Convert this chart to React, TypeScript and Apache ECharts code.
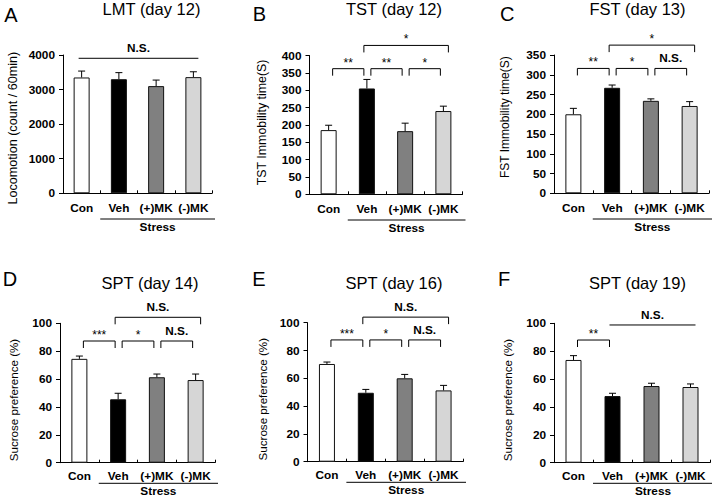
import React, { useEffect, useRef } from "react";
import * as echarts from "echarts";

const FONT = '"Liberation Sans", Arial, Helvetica, sans-serif';

const categories = ["Con", "Veh", "(+)MK", "(-)MK"];
const barColors = ["#ffffff", "#000000", "#808080", "#d6d6d6"];
const stressGroup = [1, 3];

const lmtMean = [3350, 3300, 3100, 3360];
const lmtSem = [185, 190, 175, 155];
const tstMean = [185, 305, 182, 240];
const tstSem = [14, 26, 23, 14];
const fstMean = [200, 267, 234, 221];
const fstSem = [15, 7, 5, 11];
const spt14Mean = [74.5, 45.5, 61.3, 59.3];
const spt14Sem = [2, 4.3, 2.3, 4.3];
const spt16Mean = [70.3, 49.6, 60, 51.3];
const spt16Sem = [1.4, 2.4, 2.8, 3.6];
const spt19Mean = [73.7, 47.8, 55, 54.3];
const spt19Sem = [3.1, 2, 2, 2.2];

type Cmp = [number, number, number, string, string];
const lmtCmp: Cmp[] = [[0, 3, 3905, "N.S.", "line"]];
const tstCmp: Cmp[] = [
  [0, 1, 362, "**", "bracket"],
  [1, 2, 362, "**", "bracket"],
  [2, 3, 362, "*", "bracket"],
  [1, 3, 429, "*", "bracket"],
];
const fstCmp: Cmp[] = [
  [0, 1, 316, "**", "bracket"],
  [1, 2, 316, "*", "bracket"],
  [2, 3, 316, "N.S.", "bracket"],
  [1, 3, 375, "*", "bracket"],
];
const spt14Cmp: Cmp[] = [
  [0, 1, 87.3, "***", "bracket"],
  [1, 2, 87.3, "*", "bracket"],
  [2, 3, 87.3, "N.S.", "bracket"],
  [1, 3, 104.3, "N.S.", "bracket"],
];
const spt16Cmp: Cmp[] = [
  [0, 1, 87.6, "***", "bracket"],
  [1, 2, 87.6, "*", "bracket"],
  [2, 3, 87.6, "N.S.", "bracket"],
  [1, 3, 104, "N.S.", "bracket"],
];
const spt19Cmp: Cmp[] = [
  [0, 1, 88, "**", "bracket"],
  [1, 3, 98.8, "N.S.", "line"],
];

const rows = [
  { labelMargin: 9, stressLine: 25.7, stressText: 34 },
  { labelMargin: 7, stressLine: 20.6, stressText: 28.3 },
];

const panels = [
  {
    letter: "A", letterPos: [11, 14.5], title: "LMT (day 12)", titlePos: [151.5, 9.3],
    yName: "Locomotion (count / 60min)", nameGap: 44, nameSize: 12.6, namePad: [0, 8, 0, 0],
    mean: lmtMean, sem: lmtSem, cmp: lmtCmp, max: 4000, interval: 1000,
    grid: { left: 63, top: 55, width: 149, height: 138.3 }, row: 0,
  },
  {
    letter: "B", letterPos: [259.3, 13.7], title: "TST (day 12)", titlePos: [394, 9.3],
    yName: "TST Immobility time(S)", nameGap: 42, nameSize: 12.4, namePad: [0, 0, 0, 5],
    mean: tstMean, sem: tstSem, cmp: tstCmp, max: 400, interval: 50,
    grid: { left: 309.5, top: 55.5, width: 153, height: 138.8 }, row: 0,
  },
  {
    letter: "C", letterPos: [507.3, 13.7], title: "FST (day 13)", titlePos: [637.5, 9.3],
    yName: "FST Immobility time(S)", nameGap: 43, nameSize: 12, namePad: [0, 0, 0, 14],
    mean: fstMean, sem: fstSem, cmp: fstCmp, max: 350, interval: 50,
    grid: { left: 554, top: 55, width: 155, height: 138.3 }, row: 0,
  },
  {
    letter: "D", letterPos: [10, 278.7], title: "SPT (day 14)", titlePos: [150, 283],
    yName: "Sucrose preference (%)", nameGap: 40.7, nameSize: 11.6, namePad: [0, 14, 0, 0],
    mean: spt14Mean, sem: spt14Sem, cmp: spt14Cmp, max: 100, interval: 20,
    grid: { left: 60, top: 323.3, width: 155, height: 139.4 }, row: 1,
  },
  {
    letter: "E", letterPos: [258.8, 278.7], title: "SPT (day 16)", titlePos: [394, 283],
    yName: "Sucrose preference (%)", nameGap: 39.5, nameSize: 11.6, namePad: [0, 14, 0, 0],
    mean: spt16Mean, sem: spt16Sem, cmp: spt16Cmp, max: 100, interval: 20,
    grid: { left: 307.5, top: 322.7, width: 155.5, height: 139 }, row: 1,
  },
  {
    letter: "F", letterPos: [504, 278.7], title: "SPT (day 19)", titlePos: [637.5, 283],
    yName: "Sucrose preference (%)", nameGap: 41, nameSize: 11.6, namePad: [0, 14, 0, 0],
    mean: spt19Mean, sem: spt19Sem, cmp: spt19Cmp, max: 100, interval: 20,
    grid: { left: 554, top: 323.3, width: 156, height: 139.4 }, row: 1,
  },
];

function buildOption() {
  const grid: any[] = [];
  const xAxis: any[] = [];
  const yAxis: any[] = [];
  const series: any[] = [];
  const graphic: any[] = [];

  panels.forEach((p, i) => {
    const row = rows[p.row];
    grid.push({ ...p.grid, containLabel: false });
    xAxis.push({
      type: "category",
      gridIndex: i,
      data: categories,
      axisLine: { lineStyle: { color: "#000", width: 1 } },
      axisTick: {
        show: true,
        inside: true,
        length: 3,
        interval: (idx: number) => idx > 0,
        lineStyle: { color: "#000" },
      },
      axisLabel: {
        color: "#000",
        fontWeight: "bold",
        fontSize: 11.8,
        fontFamily: FONT,
        margin: row.labelMargin,
        interval: 0,
      },
    });
    yAxis.push({
      type: "value",
      gridIndex: i,
      min: 0,
      max: p.max,
      interval: p.interval,
      axisLine: { show: true, lineStyle: { color: "#000", width: 1 } },
      axisTick: { show: true, length: 4, lineStyle: { color: "#000" } },
      splitLine: { show: false },
      axisLabel: {
        color: "#000",
        fontWeight: "bold",
        fontSize: 11.8,
        fontFamily: FONT,
        margin: 8,
        formatter: (v: number) => String(v),
      },
      name: p.yName,
      nameLocation: "middle",
      nameGap: p.nameGap,
      nameTextStyle: {
        color: "#000",
        fontSize: p.nameSize,
        fontFamily: FONT,
        padding: p.namePad,
      },
    });

    series.push({
      type: "bar",
      xAxisIndex: i,
      yAxisIndex: i,
      barWidth: 16,
      silent: true,
      itemStyle: { borderColor: "#111", borderWidth: 1 },
      data: p.mean.map((v, k) => ({ value: v, itemStyle: { color: barColors[k] } })),
    });

    series.push({
      type: "custom",
      xAxisIndex: i,
      yAxisIndex: i,
      z: 5,
      silent: true,
      encode: { x: 0, y: [1, 2] },
      data: p.mean.map((v, k) => [k, v, v + p.sem[k]]),
      renderItem: (params: any, api: any) => {
        const k = api.value(0);
        const base = api.coord([k, api.value(1)]);
        const top = api.coord([k, api.value(2)]);
        return {
          type: "group",
          children: [
            {
              type: "line",
              shape: { x1: base[0], y1: base[1], x2: top[0], y2: top[1] },
              style: { stroke: "#000", lineWidth: 1 },
            },
            {
              type: "line",
              shape: { x1: top[0] - 3.5, y1: top[1], x2: top[0] + 3.5, y2: top[1] },
              style: { stroke: "#000", lineWidth: 1 },
            },
          ],
        };
      },
    });

    const cmp = p.cmp;
    series.push({
      type: "custom",
      xAxisIndex: i,
      yAxisIndex: i,
      z: 5,
      silent: true,
      clip: false,
      encode: { x: 0, y: 2 },
      data: cmp.map((c) => [c[0], c[1], c[2]]),
      renderItem: (params: any, api: any) => {
        const c = cmp[params.dataIndex];
        const p1 = api.coord([c[0], c[2]]);
        const p2 = api.coord([c[1], c[2]]);
        const adjacent = c[1] - c[0] === 1;
        const x1 = p1[0] + (adjacent ? 4 : -3);
        const x2 = p2[0] + (adjacent ? -3 : 5);
        const y = p1[1];
        const children: any[] = [];
        if (c[4] === "bracket") {
          children.push({
            type: "polyline",
            shape: { points: [[x1, y + 7], [x1, y], [x2, y], [x2, y + 7]] },
            style: { stroke: "#000", fill: "none", lineWidth: 1 },
          });
        } else {
          children.push({
            type: "line",
            shape: { x1, y1: y, x2, y2: y },
            style: { stroke: "#000", lineWidth: 1 },
          });
        }
        const isStar = c[3].indexOf("*") >= 0;
        children.push({
          type: "text",
          x: (x1 + x2) / 2,
          y: y - (isStar ? 6 : 10),
          style: {
            text: c[3],
            align: "center",
            verticalAlign: "middle",
            fontSize: isStar ? 12 : 11.8,
            fontWeight: isStar ? "normal" : "bold",
            fontFamily: FONT,
            fill: "#000",
          },
        });
        return { type: "group", children };
      },
    });

    series.push({
      type: "custom",
      xAxisIndex: i,
      yAxisIndex: i,
      z: 5,
      silent: true,
      clip: false,
      encode: { x: 0, y: 1 },
      data: [[stressGroup[0], 0, stressGroup[1]]],
      renderItem: (params: any, api: any) => {
        const a = api.coord([stressGroup[0], 0]);
        const b = api.coord([stressGroup[1], 0]);
        const band = api.size([1, 0])[0];
        const x1 = a[0] - band / 2;
        const x2 = b[0] + band / 2 + 3;
        const y = a[1] + row.stressLine;
        return {
          type: "group",
          children: [
            {
              type: "line",
              shape: { x1, y1: y, x2, y2: y },
              style: { stroke: "#000", lineWidth: 1 },
            },
            {
              type: "text",
              x: (x1 + x2) / 2,
              y: a[1] + row.stressText,
              style: {
                text: "Stress",
                align: "center",
                verticalAlign: "middle",
                fontSize: 11.8,
                fontWeight: "bold",
                fontFamily: FONT,
                fill: "#000",
              },
            },
          ],
        };
      },
    });

    graphic.push({
      type: "text",
      x: p.letterPos[0],
      y: p.letterPos[1],
      style: {
        text: p.letter,
        align: "center",
        verticalAlign: "middle",
        fontSize: 20,
        fontFamily: FONT,
        fill: "#000",
      },
    });
    graphic.push({
      type: "text",
      x: p.titlePos[0],
      y: p.titlePos[1],
      style: {
        text: p.title,
        align: "center",
        verticalAlign: "middle",
        fontSize: 16.5,
        fontFamily: FONT,
        fill: "#000",
      },
    });
  });

  return {
    animation: false,
    backgroundColor: "#ffffff",
    textStyle: { fontFamily: FONT },
    grid,
    xAxis,
    yAxis,
    series,
    graphic,
  };
}

export default function App() {
  const ref = useRef<HTMLDivElement>(null);
  useEffect(() => {
    if (!ref.current) return;
    const chart = echarts.init(ref.current, undefined, { renderer: "svg" });
    chart.setOption(buildOption() as any);
    return () => chart.dispose();
  }, []);
  return (
    <div
      ref={ref}
      style={{ position: "fixed", left: 0, top: 0, width: 712, height: 497, background: "#fff" }}
    />
  );
}
